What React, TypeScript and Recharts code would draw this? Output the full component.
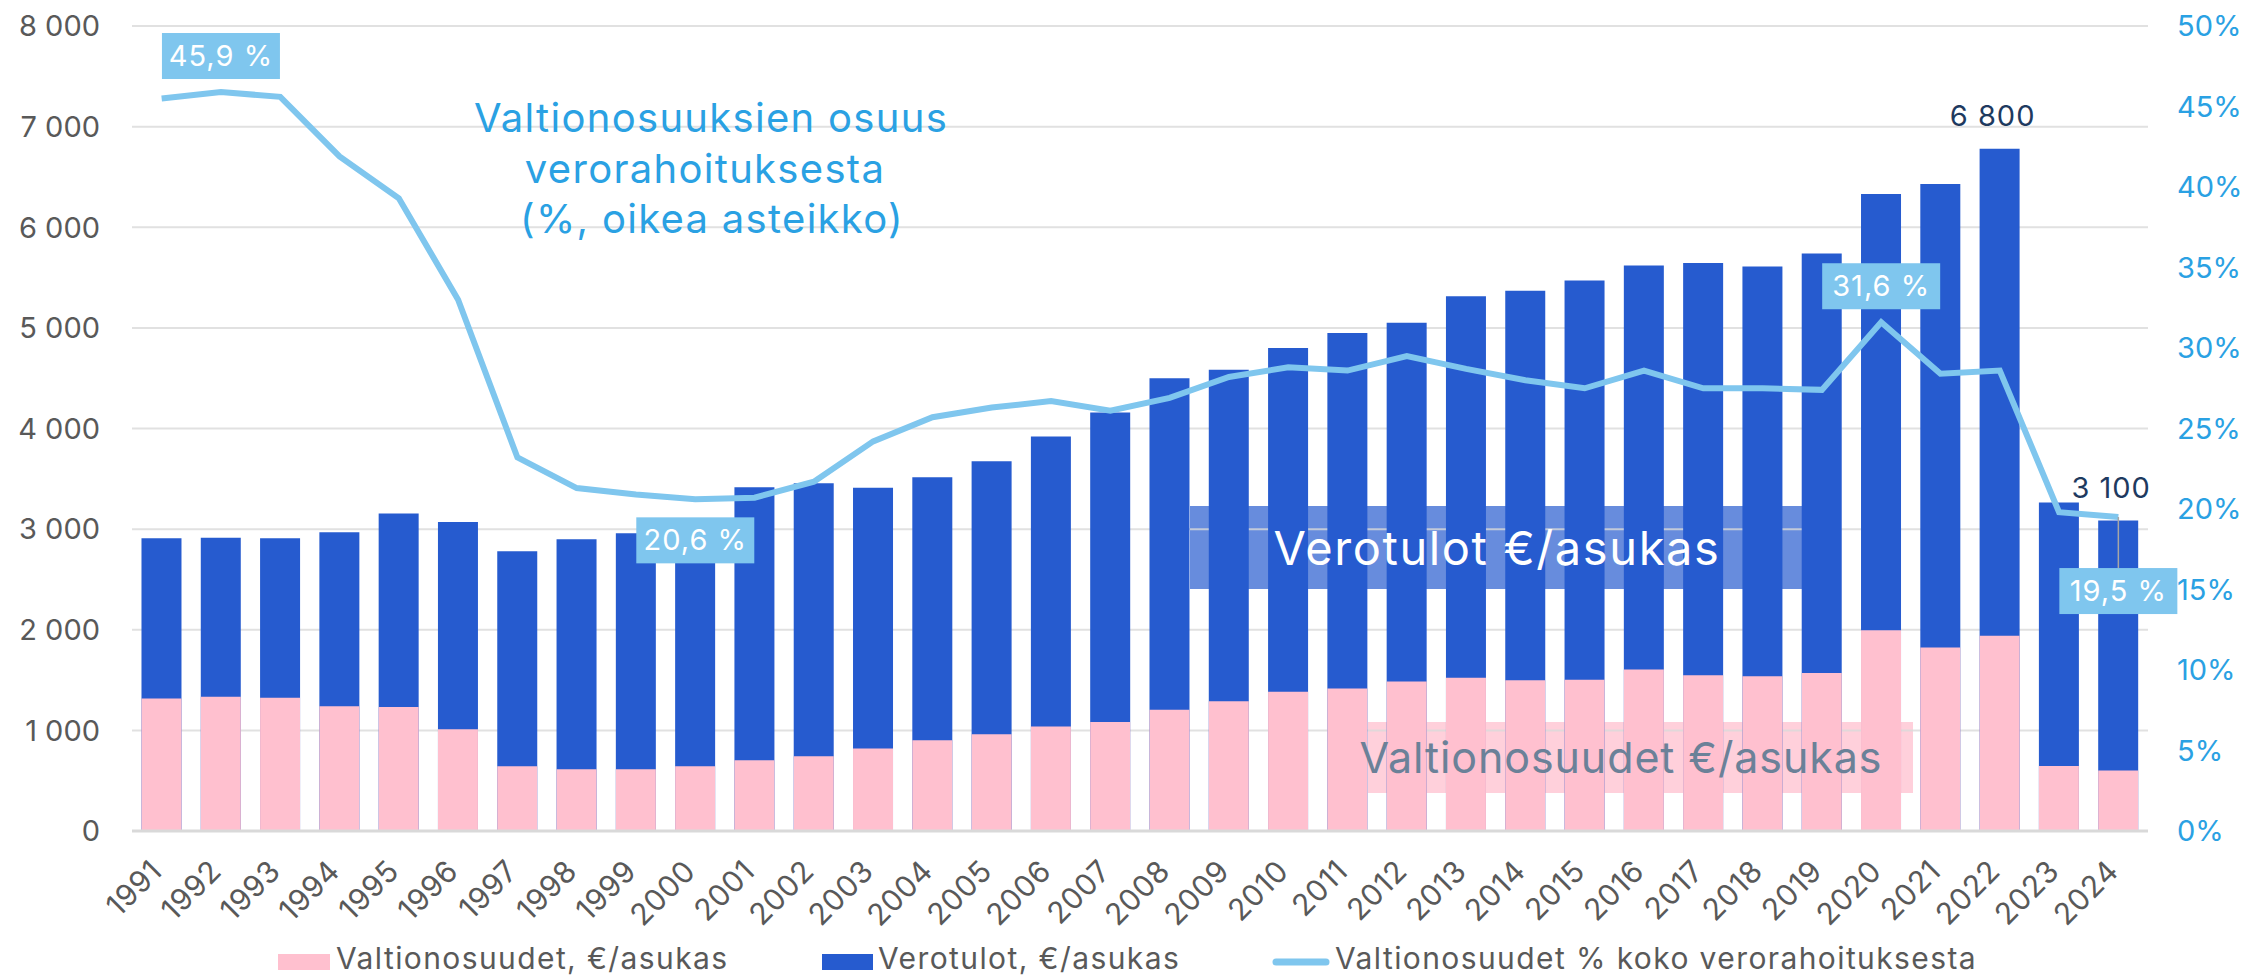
import React from "react";
import {
  ComposedChart,
  Bar,
  Line,
  XAxis,
  YAxis,
  CartesianGrid,
  LabelList,
} from "recharts";

const years = [
  "1991", "1992", "1993", "1994", "1995", "1996", "1997", "1998", "1999", "2000",
  "2001", "2002", "2003", "2004", "2005", "2006", "2007", "2008", "2009", "2010",
  "2011", "2012", "2013", "2014", "2015", "2016", "2017", "2018", "2019", "2020",
  "2021", "2022", "2023", "2024",
];

// Verotulot, €/asukas (full bar height)
const verotulot = [
  2910, 2915, 2910, 2970, 3155, 3070, 2780, 2900, 2960, 3100,
  3415, 3455, 3410, 3515, 3675, 3920, 4160, 4500, 4585, 4800,
  4950, 5050, 5315, 5370, 5470, 5620, 5645, 5610, 5740, 6330,
  6430, 6780, 3265, 3085,
];

// Valtionosuudet, €/asukas
const valtionosuudet = [
  1317, 1333, 1323, 1240, 1233, 1011, 643, 613, 613, 643,
  703, 743, 819, 902, 962, 1038, 1084, 1204, 1290, 1383,
  1416, 1486, 1522, 1499, 1502, 1605, 1548, 1538, 1571, 1996,
  1824, 1940, 647, 601,
];

// Valtionosuudet % koko verorahoituksesta
const osuusPct = [
  45.5, 45.9, 45.6, 41.9, 39.3, 33.0, 23.2, 21.3, 20.9, 20.6,
  20.7, 21.7, 24.2, 25.7, 26.3, 26.7, 26.1, 26.9, 28.2, 28.8,
  28.6, 29.5, 28.7, 28.0, 27.5, 28.6, 27.5, 27.5, 27.4, 31.6,
  28.4, 28.6, 19.8, 19.5,
];

const leftTicks = [0, 1000, 2000, 3000, 4000, 5000, 6000, 7000, 8000];
const rightTicks = [0, 5, 10, 15, 20, 25, 30, 35, 40, 45, 50];

// which points get a percentage box, and where it sits
const pctLabelYears: Record<string, "above" | "below" | "leader"> = {
  "1992": "above",
  "2000": "below",
  "2020": "above",
  "2024": "leader",
};
const barLabelYears = ["2022", "2024"];

const data = years.map((year, i) => ({
  year,
  verotulot: verotulot[i],
  valtionosuudet: valtionosuudet[i],
  osuus: osuusPct[i],
}));

const FONT = "Inter, 'Open Sans', sans-serif";
const PINK = "#ffc0cf";
const BLUE = "#265bcf";
const LINE = "#7fc6ee";
const GREY = "#595959";
const TEAL = "#2aa1e3";

function fmtThousands(v: number): string {
  return String(v).replace(/\B(?=(\d{3})+(?!\d))/g, " ");
}

function fmtPct(v: number): string {
  return `${v.toFixed(1).replace(".", ",")} %`;
}

function YearTick(props: any) {
  const { x, y, payload } = props;
  const tx = x + 2;
  const ty = y + 42;
  return (
    <text
      x={tx}
      y={ty}
      transform={`rotate(-45 ${tx} ${ty})`}
      textAnchor="end"
      fill={GREY}
      fontSize={30}
      letterSpacing={0.5}
      fontFamily={FONT}
    >
      {payload.value}
    </text>
  );
}

function PctLabel(props: any) {
  const { x, y, value, index } = props;
  const mode = pctLabelYears[years[index]];
  if (!mode) return null;
  const w = 118;
  const h = 46;
  const top = mode === "above" ? y - 13 - h : mode === "below" ? y + 18 : y + 51;
  return (
    <g>
      {mode === "leader" && (
        <line x1={x} y1={y} x2={x} y2={top} stroke="#a6a6a6" strokeWidth={1.5} />
      )}
      <rect x={x - w / 2} y={top} width={w} height={h} fill={LINE} />
      <text
        x={x}
        y={top + h / 2 + 10}
        textAnchor="middle"
        fill="#ffffff"
        fontSize={29}
        letterSpacing={1}
        fontFamily={FONT}
      >
        {fmtPct(Number(value))}
      </text>
    </g>
  );
}

function BarTopLabel(props: any) {
  const { x, y, width, value, index } = props;
  if (!barLabelYears.includes(years[index])) return null;
  return (
    <text
      x={x + width / 2 - 7}
      y={y - 23}
      textAnchor="middle"
      fill="#1e3a5f"
      fontSize={29}
      letterSpacing={1}
      fontFamily={FONT}
    >
      {fmtThousands(Math.round(Number(value) / 100) * 100)}
    </text>
  );
}

export default function App() {
  return (
    <div style={{ position: "absolute", left: 0, top: 0, width: 2250, height: 976, background: "#fff" }}>
      {/* caption boxes sit behind the bars, so they go under the chart */}
      <svg width={2250} height={976} style={{ position: "absolute", left: 0, top: 0 }}>
        <rect x={1190} y={506} width={612} height={83} fill={BLUE} fillOpacity={0.7} />
        <rect x={1368} y={722} width={545} height={71} fill={PINK} fillOpacity={0.75} />
      </svg>

      <ComposedChart
        width={2250}
        height={976}
        data={data}
        margin={{ top: 26, right: 0, bottom: 40, left: 0 }}
        barCategoryGap="16%"
      >
        <CartesianGrid
          vertical={false}
          yAxisId="left"
          xAxisId="main"
          stroke="#d9d9d9"
          strokeOpacity={0.8}
          strokeWidth={2}
        />
        <XAxis
          xAxisId="main"
          dataKey="year"
          height={105}
          interval={0}
          tick={<YearTick />}
          tickLine={false}
          tickSize={0}
          tickMargin={0}
          axisLine={{ stroke: "#d9d9d9", strokeWidth: 3 }}
        />
        <XAxis xAxisId="over" dataKey="year" hide />
        <YAxis
          yAxisId="left"
          width={132}
          domain={[0, 8000]}
          ticks={leftTicks}
          tickFormatter={fmtThousands}
          axisLine={false}
          tickLine={false}
          tickSize={0}
          tickMargin={32}
          tick={{ fill: GREY, fontSize: 29, fontFamily: FONT }}
        />
        <YAxis
          yAxisId="right"
          orientation="right"
          width={102}
          domain={[0, 50]}
          ticks={rightTicks}
          tickFormatter={(v: number) => `${v}%`}
          axisLine={false}
          tickLine={false}
          tickSize={0}
          tickMargin={29}
          tick={{ fill: TEAL, fontSize: 29, fontFamily: FONT }}
        />
        <Bar
          xAxisId="main"
          yAxisId="left"
          dataKey="verotulot"
          name="Verotulot, €/asukas"
          fill={BLUE}
          isAnimationActive={false}
        >
          <LabelList dataKey="verotulot" content={BarTopLabel} />
        </Bar>
        <Bar
          xAxisId="over"
          yAxisId="left"
          dataKey="valtionosuudet"
          name="Valtionosuudet, €/asukas"
          fill={PINK}
          isAnimationActive={false}
        />
        <Line
          xAxisId="main"
          yAxisId="right"
          type="linear"
          dataKey="osuus"
          name="Valtionosuudet % koko verorahoituksesta"
          stroke={LINE}
          strokeWidth={6}
          dot={false}
          activeDot={false}
          isAnimationActive={false}
        >
          <LabelList dataKey="osuus" content={PctLabel} />
        </Line>
      </ComposedChart>

      <svg
        width={2250}
        height={976}
        style={{ position: "absolute", left: 0, top: 0, pointerEvents: "none" }}
      >
        <g fontFamily={FONT} textAnchor="middle" fill={TEAL} fontSize={40} letterSpacing={1.3}>
          <text x={711} y={132}>Valtionosuuksien osuus</text>
          <text x={705} y={183}>verorahoituksesta</text>
          <text x={712} y={233}>(%, oikea asteikko)</text>
        </g>
        <text
          x={1497}
          y={565}
          textAnchor="middle"
          fill="#ffffff"
          fontSize={47}
          letterSpacing={1.6}
          fontFamily={FONT}
        >
          Verotulot €/asukas
        </text>
        <text
          x={1621}
          y={773}
          textAnchor="middle"
          fill="#6b8198"
          fontSize={43}
          letterSpacing={0.9}
          fontFamily={FONT}
        >
          Valtionosuudet €/asukas
        </text>

        <g fontFamily={FONT} fontSize={30} fill={GREY} letterSpacing={1.4}>
          <rect x={278} y={954} width={52} height={16} fill={PINK} />
          <text x={336} y={969}>Valtionosuudet, €/asukas</text>
          <rect x={822} y={954} width={51} height={16} fill={BLUE} />
          <text x={878} y={969}>Verotulot, €/asukas</text>
          <line x1={1276} y1={962} x2={1326} y2={962} stroke={LINE} strokeWidth={7} strokeLinecap="round" />
          <text x={1335} y={969}>Valtionosuudet % koko verorahoituksesta</text>
        </g>
      </svg>
    </div>
  );
}
